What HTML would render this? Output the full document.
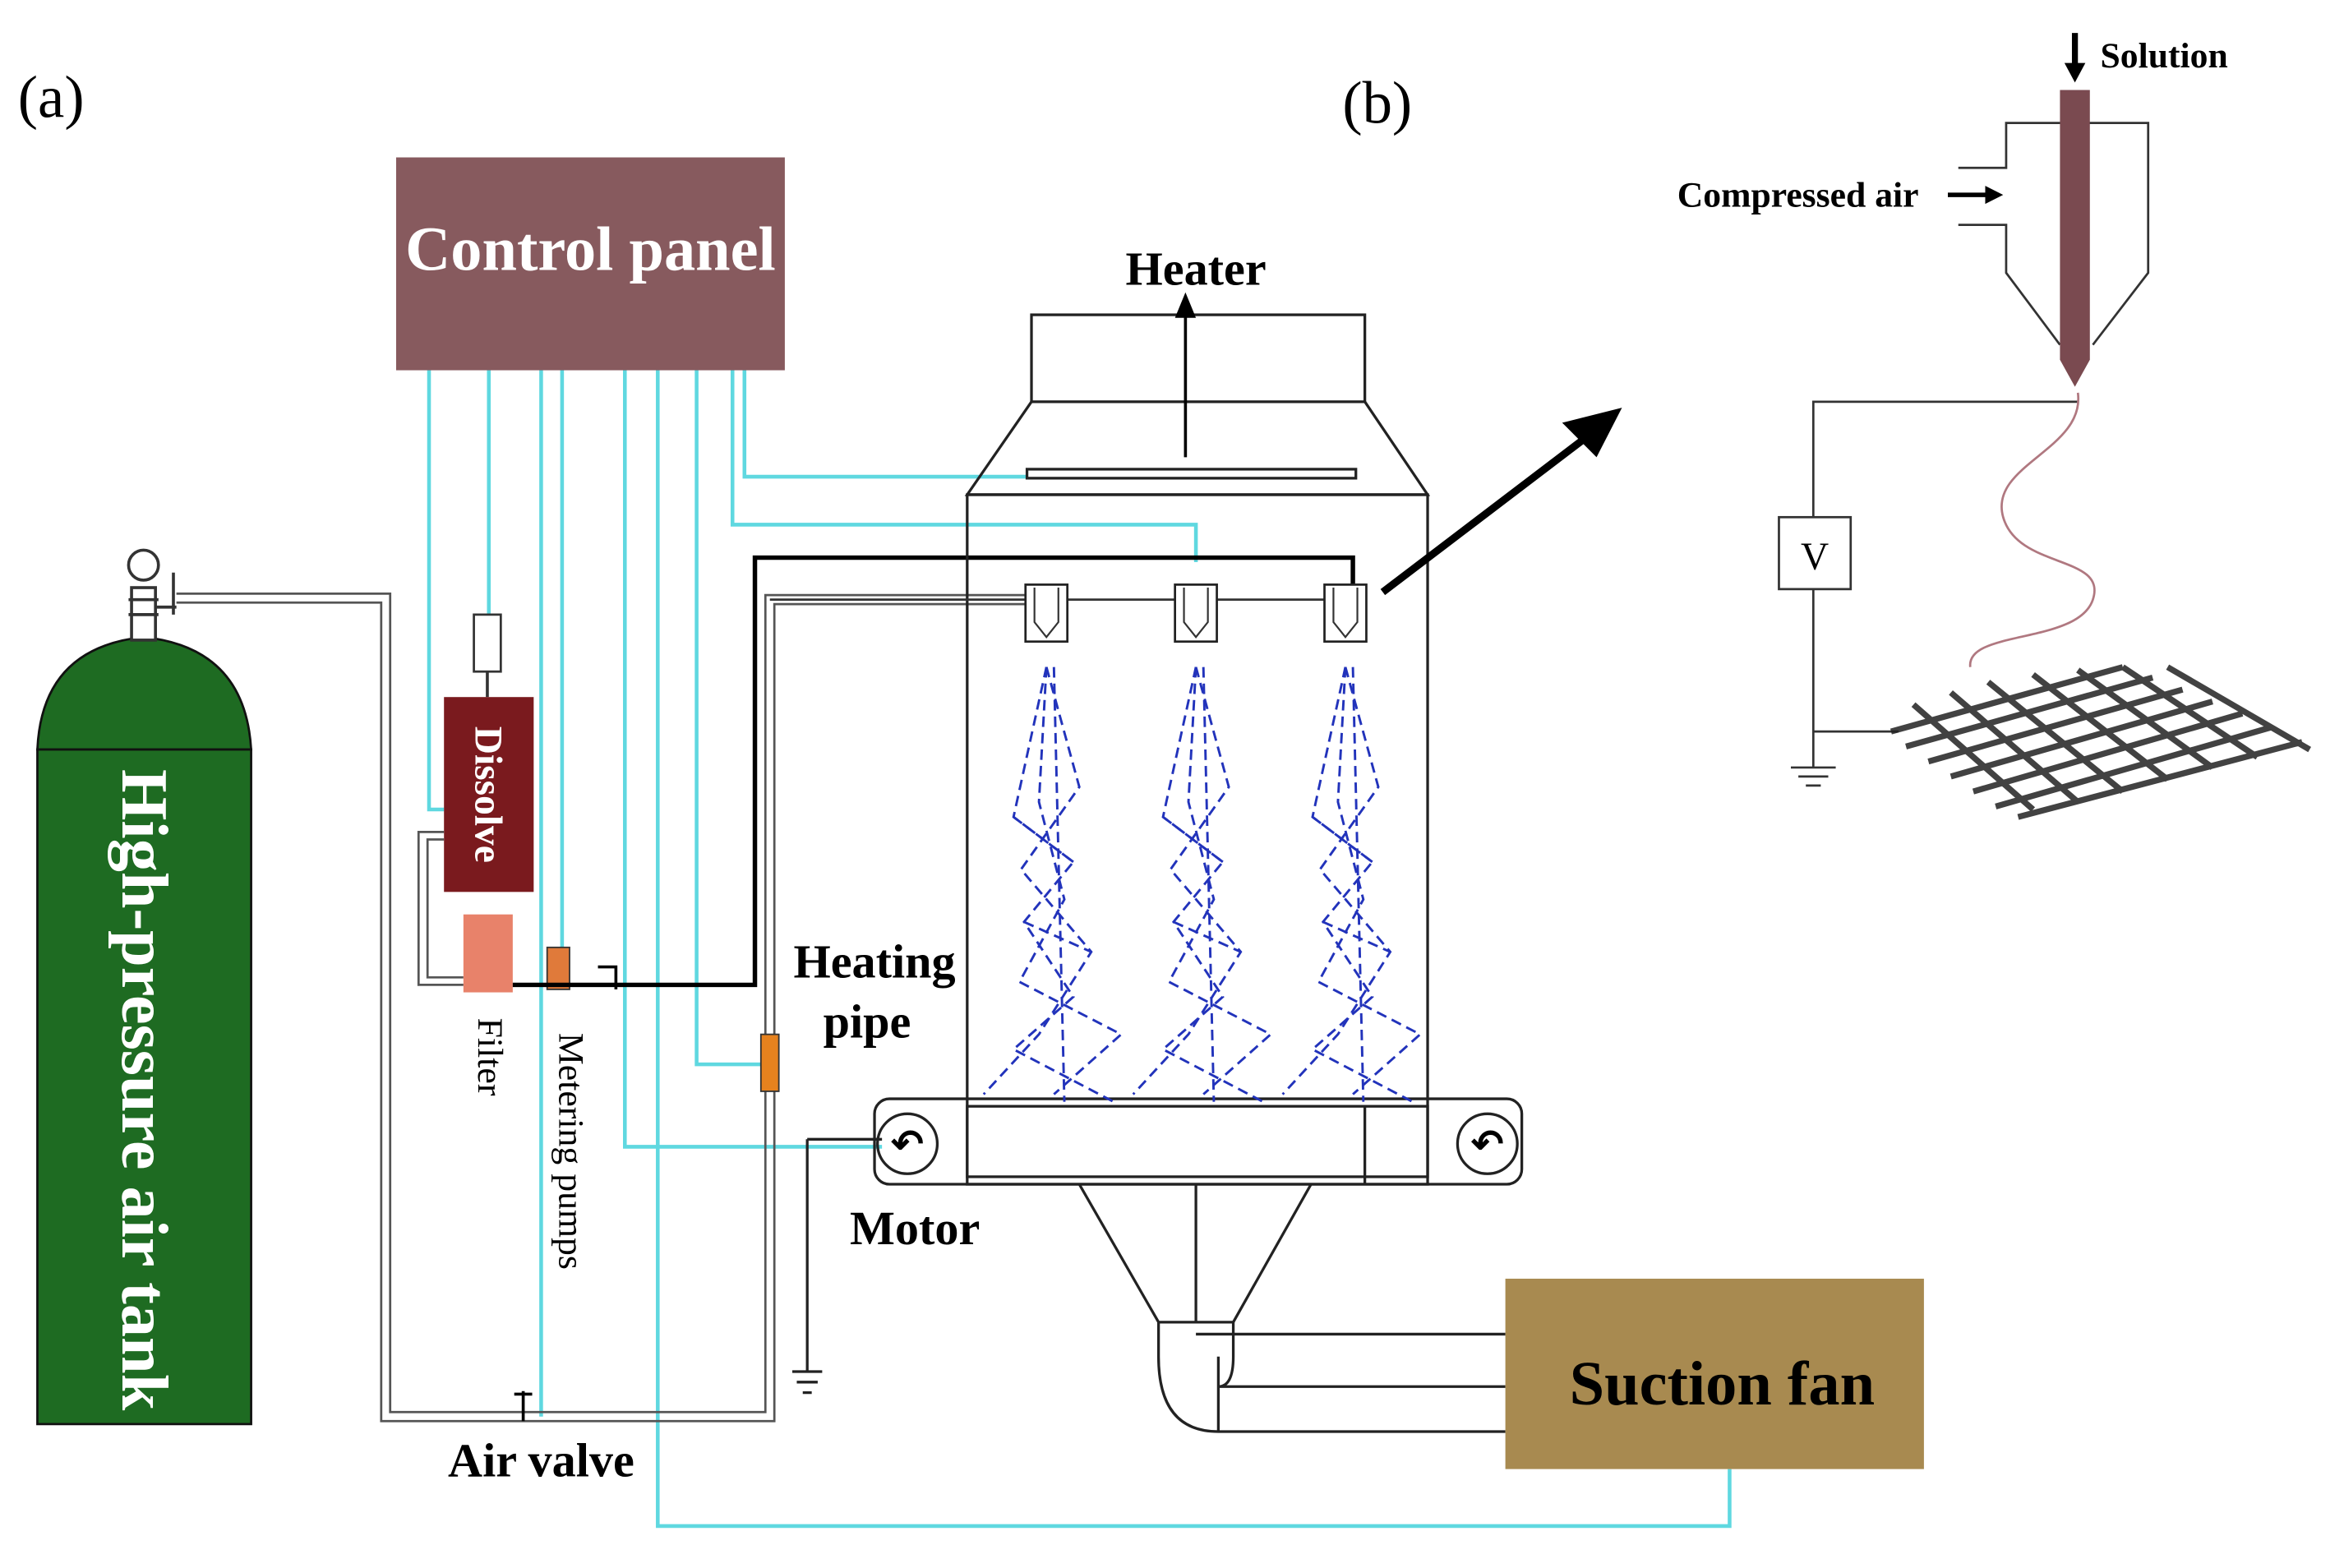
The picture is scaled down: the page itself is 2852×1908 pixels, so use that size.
<!DOCTYPE html>
<html><head><meta charset="utf-8"><style>
html,body{margin:0;padding:0;background:#fff;width:2852px;height:1908px;overflow:hidden}
svg{display:block}
text{font-family:"Liberation Serif",serif}
</style></head><body>
<svg width="2852" height="1908" viewBox="0 0 1568 1046" preserveAspectRatio="none" xmlns="http://www.w3.org/2000/svg">
<rect width="1568" height="1046" fill="#fff"/>
<text x="12" y="78" font-size="40">(a)</text>
<text x="898" y="82" font-size="40">(b)</text>

<g fill="none" stroke="#5fd8e0" stroke-width="2.5">
<path d="M287 247 V540 H297"/>
<path d="M327 247 V410"/>
<path d="M362 247 V945"/>
<path d="M376 247 V632"/>
<path d="M418 247 V765 H590"/>
<path d="M440 247 V1018 H1157 V980"/>
<path d="M466 247 V710 H509"/>
<path d="M490 247 V350 H800 V375"/>
<path d="M498 247 V318 H687"/>
</g>

<rect x="265" y="105" width="260" height="142" fill="#875a5e"/>
<text x="395" y="180" font-size="42" font-weight="bold" fill="#fff" text-anchor="middle">Control panel</text>

<path d="M25 500 Q28 432 96 425 Q164 432 168 500 Z" fill="#1e6b22" stroke="#111" stroke-width="1.5"/>
<rect x="25" y="500" width="143" height="450" fill="#1e6b22" stroke="#111" stroke-width="1.5"/>
<rect x="88" y="392" width="16" height="35" fill="#fff" stroke="#333" stroke-width="2"/>
<path d="M86 400 H106 M86 410 H106" stroke="#333" stroke-width="2"/>
<circle cx="96" cy="377" r="10" fill="#fff" stroke="#333" stroke-width="2"/>
<path d="M104 405 H118 M116 382 V410" stroke="#333" stroke-width="2"/>
<text transform="translate(82,727) rotate(90)" font-size="44" font-weight="bold" fill="#fff" text-anchor="middle">High-pressure air tank</text>

<g fill="none" stroke="#555" stroke-width="1.5">
<path d="M118 396 H261 V942 H512 V397 H700"/>
<path d="M118 402 H255 V948 H518 V403 H700"/>
</g>
<path d="M350 928 V948 M344 930 H356" stroke="#000" stroke-width="2"/>

<rect x="317" y="410" width="18" height="38" fill="#fff" stroke="#333" stroke-width="1.5"/>
<line x1="326" y1="448" x2="326" y2="465" stroke="#333" stroke-width="2"/>
<rect x="297" y="465" width="60" height="130" fill="#7a1a1e"/>
<text transform="translate(318,530) rotate(90)" font-size="26" font-weight="bold" fill="#fff" text-anchor="middle">Dissolve</text>
<path d="M297 555 H280 V657 H310 M297 560 H286 V652 H310" fill="none" stroke="#555" stroke-width="1.5"/>
<rect x="310" y="610" width="33" height="52" fill="#e8826a"/>
<text transform="translate(320,705) rotate(90)" font-size="24" text-anchor="middle">Filter</text>
<rect x="366" y="632" width="15" height="28" fill="#e07a3a" stroke="#333"/>
<text transform="translate(374,768) rotate(90)" font-size="24" text-anchor="middle">Metering pumps</text>
<path d="M343 657 H505 V372 H905 V395" fill="none" stroke="#000" stroke-width="3"/>
<path d="M400 645 H412 V660" fill="none" stroke="#000" stroke-width="2"/>
<rect x="509" y="690" width="12" height="38" fill="#e6821e" stroke="#333"/>
<text x="585" y="652" font-size="32" font-weight="bold" text-anchor="middle">Heating</text>
<text x="580" y="692" font-size="32" font-weight="bold" text-anchor="middle">pipe</text>

<g fill="none" stroke="#222" stroke-width="1.8">
<rect x="690" y="210" width="223" height="58"/>
<path d="M690 268 L647 330 H955 L913 268"/>
<rect x="647" y="330" width="308" height="455"/>
<rect x="687" y="313" width="220" height="6"/>
<rect x="585" y="733" width="433" height="57" rx="10"/>
<rect x="647" y="738" width="308" height="52"/>
<line x1="913" y1="738" x2="913" y2="790"/>
<path d="M722 790 L775 882 H825 L877 790"/>
<line x1="800" y1="790" x2="800" y2="882"/>
<path d="M775 882 V905 Q775 955 815 955 H1007 M825 882 V905 Q825 925 815 925 H1007 M800 890 H1007"/>
<line x1="815" y1="905" x2="815" y2="955"/>
<circle cx="607" cy="763" r="20"/>
<circle cx="995" cy="763" r="20"/>
<path d="M540 760 H590 M540 760 V915 M530 915 H550 M533 922 H547 M537 929 H543"/>
</g>
<text x="607" y="772" font-size="26" font-weight="bold" text-anchor="middle">↶</text>
<text x="995" y="772" font-size="26" font-weight="bold" text-anchor="middle">↶</text>
<path d="M793 305 V200" stroke="#000" stroke-width="2"/>
<path d="M786 212 L793 195 L800 212 Z" fill="#000"/>
<text x="800" y="190" font-size="32" font-weight="bold" text-anchor="middle">Heater</text>
<text x="612" y="830" font-size="32" font-weight="bold" text-anchor="middle">Motor</text>
<text x="362" y="985" font-size="32" font-weight="bold" text-anchor="middle">Air valve</text>

<path d="M515 400 H910" stroke="#333" stroke-width="1.5"/>
<g fill="#fff" stroke="#222" stroke-width="1.5">
<rect x="686" y="390" width="28" height="38"/><rect x="786" y="390" width="28" height="38"/><rect x="886" y="390" width="28" height="38"/>
</g>
<g fill="none" stroke="#333" stroke-width="1.2">
<path d="M692 392 V415 L700 425 L708 415 V392"/><path d="M792 392 V415 L800 425 L808 415 V392"/><path d="M892 392 V415 L900 425 L908 415 V392"/>
</g>

<g fill="none" stroke="#2233bb" stroke-width="1.6" stroke-dasharray="7,4">
<g id="sp">
<path d="M700 445 L678 545 L718 575 L685 615 L718 665 L678 700 L745 735"/>
<path d="M700 445 L722 525 L683 580 L730 635 L695 690 L658 730"/>
<path d="M700 445 L695 535 L712 600 L682 655 L750 690 L705 730"/>
<path d="M705 445 L712 735"/>
<path d="M678 545 L718 575 M685 615 L730 635"/>
</g>
<use href="#sp" x="100"/>
<use href="#sp" x="200"/>
</g>

<rect x="1007" y="853" width="280" height="127" fill="#a88a50"/>
<text x="1152" y="937" font-size="42" font-weight="bold" text-anchor="middle">Suction fan</text>

<path d="M925 395 L1070 285" stroke="#000" stroke-width="5"/>
<path d="M1085 272 L1045 282 L1068 305 Z" fill="#000"/>

<text x="1122" y="138" font-size="24" font-weight="bold">Compressed air</text>
<path d="M1303 130 H1330" stroke="#000" stroke-width="3"/><path d="M1328 124 L1340 130 L1328 136 Z" fill="#000"/>
<text x="1405" y="45" font-size="24" font-weight="bold">Solution</text>
<path d="M1388 22 V45" stroke="#000" stroke-width="4"/><path d="M1381 42 L1388 55 L1395 42 Z" fill="#000"/>
<g fill="none" stroke="#333" stroke-width="1.5">
<path d="M1310 112 H1342 V82 H1437 V182 L1400 230"/>
<path d="M1310 150 H1342 V182 L1378 230"/>
<path d="M1390 268 H1213 V345 M1213 393 V512 M1198 512 H1228 M1203 518 H1223 M1208 524 H1218 M1213 488 H1270"/>
</g>
<rect x="1190" y="345" width="48" height="48" fill="#fff" stroke="#333" stroke-width="1.5"/>
<text x="1214" y="380" font-size="26" text-anchor="middle">V</text>
<path d="M1378 60 H1398 V240 L1388 258 L1378 240 Z" fill="#7a4a50"/>
<path d="M1390 262 C1395 300 1330 310 1340 345 C1350 380 1410 370 1400 400 C1390 430 1315 420 1318 445" fill="none" stroke="#b07880" stroke-width="1.5"/>
<g stroke="#222" stroke-width="4" opacity="0.85">
<path d="M1265 488 L1420 445 M1275 498 L1440 452 M1290 508 L1460 460 M1305 518 L1480 468 M1320 528 L1500 476 M1335 538 L1520 485 M1350 545 L1540 495"/>
<path d="M1280 470 L1360 540 M1305 462 L1390 535 M1330 455 L1420 528 M1360 450 L1450 520 M1390 447 L1480 512 M1420 445 L1510 505 M1450 445 L1545 500"/>
</g>
</svg>
</body></html>
